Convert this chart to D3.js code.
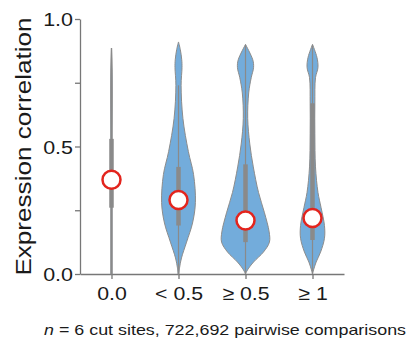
<!DOCTYPE html>
<html>
<head>
<meta charset="utf-8">
<script src="https://cdn.jsdelivr.net/npm/d3@7"></script>
<style>
  html, body { margin: 0; padding: 0; background: #fff; }
  svg { display: block; font-family: "Liberation Sans", Arial, Helvetica, sans-serif; }
</style>
</head>
<body>
<svg id="chart" width="411" height="338"></svg>
<script>
// Categories of cut-site distance groups
const categories = ["0.0", "< 0.5", "\u2265 0.5", "\u2265 1"];

// Kernel density profiles per group: [correlation, relative density]
const density00 = [[0, 0.025], [0.2, 0.025], [0.5, 0.025], [0.8, 0.025], [0.886, 0.0]];
const densityLt05 = [[0, 0.02], [0.024, 0.04], [0.063, 0.115], [0.125, 0.31], [0.20, 0.54], [0.28, 0.65],
  [0.39, 0.58], [0.48, 0.38], [0.61, 0.17], [0.74, 0.10], [0.81, 0.135], [0.84, 0.125], [0.88, 0.07], [0.91, 0]];
const densityGe05 = [[0, 0], [0.016, 0.077], [0.047, 0.31], [0.086, 0.69], [0.125, 0.92], [0.165, 0.91],
  [0.24, 0.73], [0.32, 0.5], [0.42, 0.30], [0.51, 0.165], [0.61, 0.085], [0.71, 0.123], [0.77, 0.22],
  [0.81, 0.31], [0.84, 0.28], [0.90, 0]];
const densityGe1 = [[0, 0], [0.016, 0.04], [0.047, 0.14], [0.086, 0.31], [0.14, 0.46], [0.19, 0.46],
  [0.26, 0.33], [0.32, 0.21], [0.42, 0.115], [0.55, 0.09], [0.67, 0.09], [0.77, 0.115], [0.81, 0.21],
  [0.85, 0.17], [0.90, 0]];
const densities = [density00, densityLt05, densityGe05, densityGe1];

// Box-plot summaries
const medians = [0.37, 0.29, 0.21, 0.22];
const q1 = [0.26, 0.19, 0.125, 0.133];
const q3 = [0.53, 0.42, 0.43, 0.67];
const whiskerLow = [0, 0, 0, 0];
const whiskerHigh = [0.886, 0.74, 0.90, 0.90];

// Axis ticks
const yTicks = [0, 0.25, 0.5, 0.75, 1];
const yTickLabels = { 0: "0.0", 0.5: "0.5", 1: "1.0" };

const yTitle = "Expression correlation";
const footnoteItalic = "n";
const footnoteRest = " = 6 cut sites, 722,692 pairwise comparisons";

const svg = d3.select("#chart");
const axisColor = "#777";
const textColor = "#1a1a1a";

const y = d3.scaleLinear().domain([0, 1]).range([274, 19]);
const x = d3.scalePoint().domain(categories).range([80, 344]).padding(0.47);
const w = d3.scaleLinear().domain([0, 1]).range([0, 26]);

// Stretch text horizontally along its baseline
function widen(sel, factor) {
  sel.each(function () {
    const len = this.getComputedTextLength();
    d3.select(this).attr("textLength", len * factor).attr("lengthAdjust", "spacingAndGlyphs");
  });
}

// Y axis
const yAxis = svg.append("g")
  .attr("transform", "translate(80,0)")
  .call(d3.axisLeft(y).tickValues(yTicks).tickSize(5).tickSizeOuter(0)
    .tickFormat(d => yTickLabels[d] || ""));
yAxis.select(".domain").attr("stroke", axisColor).attr("stroke-width", 1.3);
yAxis.selectAll(".tick line").attr("stroke", axisColor).attr("stroke-width", 1.3);
yAxis.selectAll(".tick text")
  .attr("font-size", 19).attr("fill", textColor).attr("font-family", null)
  .attr("x", -7).attr("dy", "0.36em")
  .call(widen, 1.13);

// X axis
const xAxis = svg.append("g")
  .attr("transform", "translate(0,274)")
  .call(d3.axisBottom(x).tickSize(5).tickSizeOuter(0));
xAxis.select(".domain").attr("stroke", axisColor).attr("stroke-width", 1.3);
xAxis.selectAll(".tick line").attr("stroke", axisColor).attr("stroke-width", 1.3);
xAxis.selectAll(".tick text")
  .attr("font-size", 19).attr("fill", textColor).attr("font-family", null)
  .attr("y", 13).attr("dy", "0.71em")
  .call(widen, 1.12);

// Violins
const plot = svg.append("g");
categories.forEach((c, i) => {
  const cx = x(c);
  const area = d3.area()
    .y(d => y(d[0]))
    .x0(d => cx - w(d[1]))
    .x1(d => cx + w(d[1]))
    .curve(d3.curveCatmullRom.alpha(0.5));
  plot.append("path")
    .datum(densities[i])
    .attr("d", area)
    .attr("fill", "#73acdb")
    .attr("stroke", "#8c8c8c")
    .attr("stroke-width", i === 0 ? 1.2 : 1);

  // whisker
  plot.append("line")
    .attr("x1", cx).attr("x2", cx)
    .attr("y1", y(whiskerLow[i])).attr("y2", y(whiskerHigh[i]))
    .attr("stroke", "#8a8a8a").attr("stroke-width", 1.2);

  // interquartile box
  plot.append("line")
    .attr("x1", cx).attr("x2", cx)
    .attr("y1", y(q1[i])).attr("y2", y(q3[i]))
    .attr("stroke", "#8a8a8a").attr("stroke-width", 4.5);

  // median marker
  plot.append("circle")
    .attr("cx", cx).attr("cy", y(medians[i])).attr("r", 9)
    .attr("fill", "#fff").attr("stroke", "#e3241d").attr("stroke-width", 2.5);
});

// Y axis title
svg.append("text")
  .attr("transform", "translate(31," + y(0.5) + ") rotate(-90)")
  .attr("text-anchor", "middle")
  .attr("font-size", 22.5)
  .attr("fill", textColor)
  .text(yTitle)
  .call(widen, 1.16);

// Footnote
const foot = svg.append("text")
  .attr("x", 44).attr("y", 335)
  .attr("font-size", 14.5)
  .attr("fill", textColor);
foot.append("tspan").attr("font-style", "italic").text(footnoteItalic);
foot.append("tspan").text(footnoteRest);
const footLen = foot.node().getComputedTextLength();
foot.attr("textLength", 362).attr("lengthAdjust", "spacingAndGlyphs");
</script>
</body>
</html>
